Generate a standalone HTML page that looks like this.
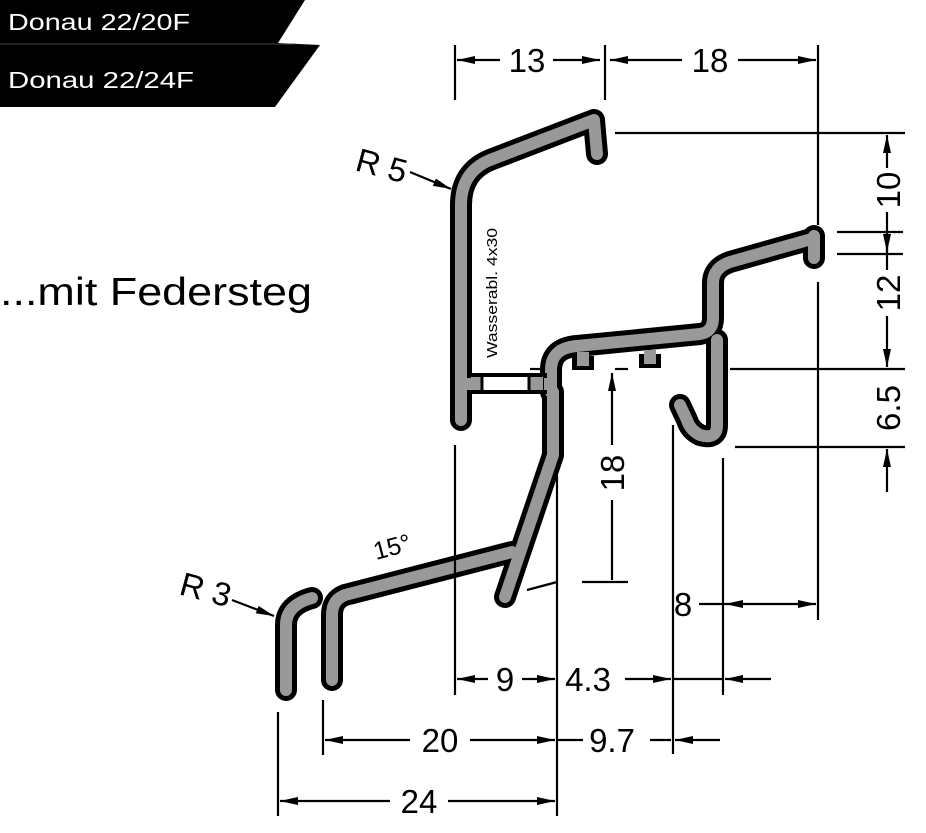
<!DOCTYPE html>
<html><head><meta charset="utf-8"><style>
html,body{margin:0;padding:0;background:#fff;width:926px;height:833px;overflow:hidden}
svg{display:block}
text{font-family:"Liberation Sans","DejaVu Sans",sans-serif}
</style></head><body>
<svg width="926" height="833" viewBox="0 0 926 833" xmlns="http://www.w3.org/2000/svg">
<defs>
<marker id="b" viewBox="0 0 18 8" refX="18" refY="4" markerWidth="18" markerHeight="8" markerUnits="userSpaceOnUse" orient="auto-start-reverse"><path d="M0,0 L18,4 L0,8z" fill="#000"/></marker>
</defs>
<!-- banner -->
<polygon points="0,0 305,0 278,43 320,45 275,107 0,107" fill="#000"/>
<line x1="0" y1="44" x2="295" y2="44" stroke="#444" stroke-width="1"/>
<text x="8" y="30" font-size="23" fill="#fff" textLength="182" lengthAdjust="spacingAndGlyphs">Donau 22/20F</text>
<text x="8" y="88" font-size="23" fill="#fff" textLength="186" lengthAdjust="spacingAndGlyphs">Donau 22/24F</text>
<text x="0" y="305" font-size="39" fill="#000" textLength="312" lengthAdjust="spacingAndGlyphs">...mit Federsteg</text>

<!-- profile -->
<g fill="none" stroke-linecap="round" stroke-linejoin="round">
<g stroke="#000" stroke-width="22">
<path d="M461,420 L461,205 Q461,172 490,160 L594,120 L597,154"/>
<path d="M551,392 L551,370 Q551,348 577,346 L700,334 Q713,332 713,318 L713,283 Q713,268 730,262 L808,240 M814,236 L814,258"/>
<path d="M717,340 L717,425 Q717,440 700,435 Q690,430 687,420 L680,405"/>
<path d="M553,392 L553,455 L505,597 M512,552 L345,595 Q332,600 332,615 L332,680"/>
<path d="M286,690 L286,625 Q286,605 312,598"/>
</g>
<path d="M583,356 L583,370 M650,354 L650,368" stroke="#000" stroke-width="22" stroke-linecap="butt"/>
<g stroke="#999" stroke-width="12">
<path d="M461,420 L461,205 Q461,172 490,160 L594,120 L597,154"/>
<path d="M551,392 L551,370 Q551,348 577,346 L700,334 Q713,332 713,318 L713,283 Q713,268 730,262 L808,240 M814,236 L814,258"/>
<path d="M717,340 L717,425 Q717,440 700,435 Q690,430 687,420 L680,405"/>
<path d="M553,392 L553,455 L505,597 M512,552 L345,595 Q332,600 332,615 L332,680"/>
<path d="M286,690 L286,625 Q286,605 312,598"/>
</g>
<path d="M583,352 L583,366 M650,350 L650,364" stroke="#999" stroke-width="12" stroke-linecap="butt"/>
</g>
<!-- water drain bar -->
<rect x="469" y="375" width="76" height="17" fill="#fff" stroke="#000" stroke-width="4"/>
<rect x="471" y="377" width="10" height="13" fill="#999"/>
<rect x="530" y="377" width="13" height="13" fill="#999"/>
<line x1="482" y1="377" x2="482" y2="390" stroke="#000" stroke-width="3"/>
<line x1="529" y1="377" x2="529" y2="390" stroke="#000" stroke-width="3"/>
<rect x="464" y="378" width="8" height="12" fill="#999"/>
<rect x="544" y="378" width="5" height="12" fill="#999"/>
<text transform="translate(497,358) rotate(-90)" font-size="15" textLength="130" lengthAdjust="spacingAndGlyphs">Wasserabl. 4x30</text>

<!-- dimension lines -->
<g stroke="#000" stroke-width="2.2" fill="none">
<line x1="455" y1="45" x2="455" y2="100"/>
<line x1="605" y1="45" x2="605" y2="100"/>
<line x1="818" y1="45" x2="818" y2="225"/>
<line x1="818" y1="282" x2="818" y2="620"/>
<line x1="455" y1="445" x2="455" y2="695"/>
<line x1="557" y1="475" x2="557" y2="816"/>
<line x1="673" y1="425" x2="673" y2="754"/>
<line x1="723" y1="458" x2="723" y2="695"/>
<line x1="278" y1="712" x2="278" y2="816"/>
<line x1="323" y1="700" x2="323" y2="755"/>
<line x1="457" y1="60" x2="500" y2="60" marker-start="url(#b)"/>
<line x1="553" y1="60" x2="600" y2="60" marker-end="url(#b)"/>
<line x1="610" y1="60" x2="682" y2="60" marker-start="url(#b)"/>
<line x1="738" y1="60" x2="816" y2="60" marker-end="url(#b)"/>
<line x1="615" y1="133" x2="905" y2="133"/>
<line x1="837" y1="232" x2="903" y2="232"/>
<line x1="837" y1="254" x2="903" y2="254"/>
<line x1="730" y1="369" x2="905" y2="369"/>
<line x1="735" y1="447" x2="905" y2="447"/>
<line x1="530" y1="369" x2="545" y2="369"/>
<line x1="615" y1="369" x2="628" y2="369"/>
<line x1="887" y1="135" x2="887" y2="168" marker-start="url(#b)"/>
<line x1="887" y1="212" x2="887" y2="252" marker-end="url(#b)"/>
<line x1="887" y1="232" x2="887" y2="270"/>
<line x1="887" y1="316" x2="887" y2="367" marker-end="url(#b)"/>
<line x1="887" y1="449" x2="887" y2="492" marker-start="url(#b)"/>
<line x1="612" y1="373" x2="612" y2="445" marker-start="url(#b)"/>
<line x1="612" y1="500" x2="612" y2="580"/>
<line x1="582" y1="582" x2="628" y2="582"/>
<line x1="527" y1="590" x2="557" y2="582"/>
<line x1="699" y1="604" x2="725" y2="604"/>
<line x1="725" y1="604" x2="816" y2="604" marker-start="url(#b)" marker-end="url(#b)"/>
<line x1="457" y1="679" x2="488" y2="679" marker-start="url(#b)"/>
<line x1="522" y1="679" x2="555" y2="679" marker-end="url(#b)"/>
<line x1="625" y1="679" x2="671" y2="679" marker-end="url(#b)"/>
<line x1="673" y1="679" x2="723" y2="679"/>
<line x1="725" y1="679" x2="771" y2="679" marker-start="url(#b)"/>
<line x1="325" y1="740" x2="410" y2="740" marker-start="url(#b)"/>
<line x1="470" y1="740" x2="555" y2="740" marker-end="url(#b)"/>
<line x1="557" y1="740" x2="583" y2="740"/>
<line x1="650" y1="740" x2="671" y2="740"/>
<line x1="675" y1="740" x2="720" y2="740" marker-start="url(#b)"/>
<line x1="280" y1="801" x2="390" y2="801" marker-start="url(#b)"/>
<line x1="448" y1="801" x2="555" y2="801" marker-end="url(#b)"/>
<line x1="410" y1="172" x2="451" y2="189" marker-end="url(#b)"/>
<line x1="232" y1="600" x2="274" y2="616" marker-end="url(#b)"/>
</g>
<g font-size="33" fill="#000">
<text x="527" y="72" text-anchor="middle">13</text>
<text x="710" y="72" text-anchor="middle">18</text>
<text transform="translate(900,190) rotate(-90)" text-anchor="middle">10</text>
<text transform="translate(900,293) rotate(-90)" text-anchor="middle">12</text>
<text transform="translate(900,408) rotate(-90)" text-anchor="middle">6.5</text>
<text transform="translate(624,473) rotate(-90)" text-anchor="middle">18</text>
<text x="683" y="616" text-anchor="middle">8</text>
<text x="505" y="691" text-anchor="middle">9</text>
<text x="588" y="691" text-anchor="middle">4.3</text>
<text x="440" y="752" text-anchor="middle">20</text>
<text x="612" y="752" text-anchor="middle">9.7</text>
<text x="419" y="813" text-anchor="middle">24</text>
<text transform="translate(354,170) rotate(15)">R 5</text>
<text transform="translate(178,594) rotate(15)">R 3</text>
</g>
<text transform="translate(376,560) rotate(-15)" font-size="25">15°</text>
</svg>
</body></html>
